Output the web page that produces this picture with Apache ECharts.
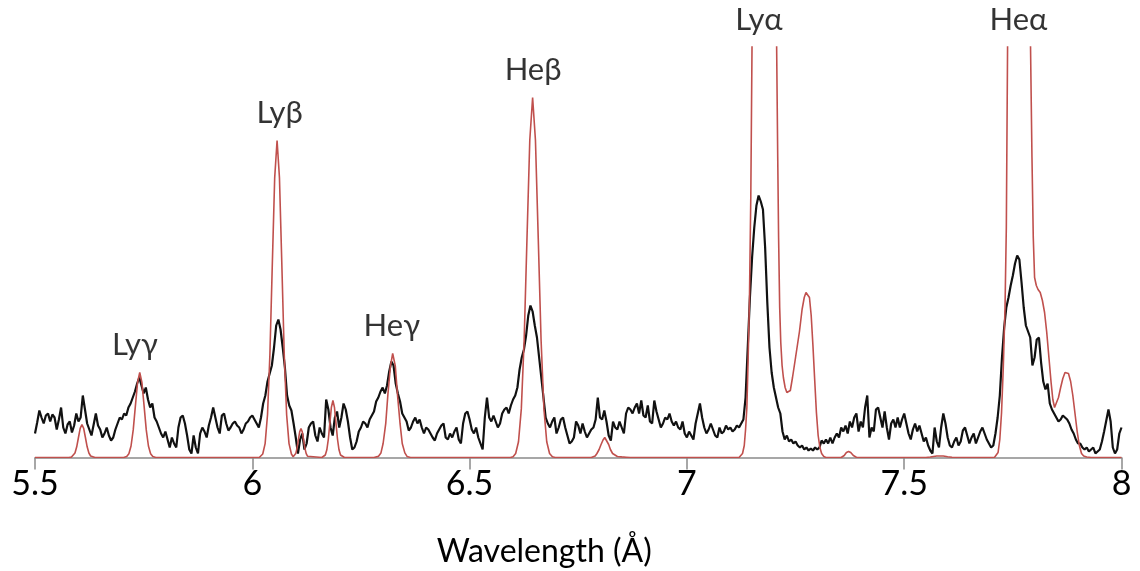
<!DOCTYPE html>
<html>
<head>
<meta charset="utf-8">
<title>X-ray spectrum 5.5–8 Å</title>
<script src="https://cdn.jsdelivr.net/npm/echarts@6/dist/echarts.min.js"></script>
<style>
  html, body { margin: 0; padding: 0; background: #ffffff; }
  #chart { width: 1140px; height: 571px; }
</style>
</head>
<body>
<div id="chart"></div>
<script>
// Measured spectrum: counts on a regular wavelength grid (Å)
const observedStart = 5.5;
const observedStep = 0.005;
const observedCounts = [
  24,35,47,40,34,42,44,36,43,40,
  28,38,50,30,24,33,36,25,32,44,
  36,40,62,48,34,28,22,33,44,32,
  28,20,24,30,22,17,20,28,34,40,
  38,44,42,50,54,60,66,74,80,72,
  64,70,58,50,54,40,36,30,24,20,
  26,18,10,20,14,10,30,40,42,34,
  22,8,4,22,10,4,24,30,26,20,
  32,40,50,40,30,24,42,44,34,27,
  30,34,36,32,30,24,28,34,36,40,
  42,38,34,30,40,54,62,76,84,92,
  110,132,138,128,110,90,62,52,47,34,
  20,4,18,24,8,14,30,34,36,22,
  16,30,24,20,58,48,30,22,40,46,
  30,40,54,48,36,20,8,10,16,26,
  30,36,34,30,38,42,46,56,60,66,
  70,64,72,86,96,92,74,64,56,44,
  40,36,27,30,36,40,34,38,30,24,
  30,28,24,20,17,24,28,32,34,20,
  18,24,20,26,30,18,14,34,44,46,
  38,28,24,30,20,14,8,40,60,40,
  36,42,36,30,34,44,48,50,44,52,
  58,62,70,88,100,108,122,142,152,146,
  132,120,100,80,60,40,34,30,36,40,
  24,30,38,40,30,22,14,16,20,36,
  32,24,34,26,20,24,28,30,38,60,
  40,38,47,36,22,17,36,30,28,36,
  30,24,44,50,48,44,50,54,44,57,
  42,40,52,36,34,57,46,38,30,34,
  40,38,44,36,32,36,30,28,36,24,
  20,26,22,18,34,44,54,40,30,24,
  28,34,28,22,20,30,24,26,32,28,
  30,26,28,32,30,34,38,60,110,160,
  200,230,252,262,256,248,210,155,110,85,
  70,60,50,44,26,18,22,16,18,14,
  16,12,10,12,8,10,7,9,7,10,
  8,10,17,14,18,14,20,14,20,24,
  20,30,26,32,24,36,30,40,44,26,
  36,30,50,62,20,30,26,48,50,40,
  30,46,30,18,34,38,30,40,30,38,
  44,34,24,18,28,34,26,32,24,16,
  20,12,7,4,30,16,10,30,44,34,
  20,12,10,16,20,12,16,27,30,22,
  14,20,24,14,20,26,30,24,18,14,
  10,12,24,40,62,100,130,150,160,172,
  182,194,202,198,175,150,132,126,120,92,
  100,118,120,95,76,68,74,54,48,44,
  40,36,38,42,40,38,34,28,24,18,
  14,14,10,8,10,6,8,10,4,6,
  8,16,26,37,48,36,10,4,8,24,30
];

// Synthetic model spectrum: [wavelength (Å), intensity]
const modelSpectrum = [
  [5.500,0],[5.578,0],[5.584,0.4],[5.588,1.5],[5.592,4.5],[5.596,10.7],[5.600,20],[5.604,29.1],[5.608,33],
  [5.612,29.1],[5.616,20],[5.620,10.7],[5.624,4.5],[5.628,1.5],[5.632,0.4],[5.638,0],
  [5.704,0],[5.711,0.9],[5.716,3.7],[5.721,11.5],[5.726,27.6],[5.731,51.6],[5.736,75],[5.741,85],
  [5.746,75],[5.751,51.6],[5.756,27.6],[5.761,11.5],[5.766,3.7],[5.771,0.9],[5.778,0],
  [6.016,0],[6.024,3.5],[6.0295,13.9],[6.035,42.8],[6.0405,103],[6.046,192.4],[6.0515,279.6],[6.057,317],
  [6.0625,279.6],[6.068,192.4],[6.0735,103],[6.079,42.8],[6.0845,13.9],[6.090,3.5],[6.094,0.8],
  [6.097,1.3],[6.100,3.9],[6.103,9.4],[6.106,17.6],[6.109,25.6],[6.112,29],[6.115,25.6],[6.118,17.6],
  [6.121,9.4],[6.124,3.9],[6.127,1.3],[6.131,0.3],[6.160,0],
  [6.1645,0.6],[6.168,2.5],[6.1715,7.7],[6.175,18.5],[6.1785,34.6],[6.182,50.3],[6.1855,57],[6.189,50.3],
  [6.1925,34.6],[6.196,18.5],[6.1995,7.7],[6.203,2.5],[6.2065,0.6],[6.212,0],
  [6.280,0],[6.290,1.1],[6.296,4.6],[6.301,14],[6.307,33.8],[6.312,63.1],[6.318,91.7],[6.323,104],
  [6.329,91.7],[6.334,63.1],[6.340,33.8],[6.345,14],[6.351,4.6],[6.356,1.1],[6.364,0],
  [6.594,0],[6.600,0.7],[6.606,4],[6.6125,15.8],[6.619,48.6],[6.6255,117],[6.632,218.5],[6.6385,317.5],[6.645,360],
  [6.6515,317.5],[6.658,218.5],[6.6645,117],[6.671,48.6],[6.6775,15.8],[6.684,4],[6.6905,0.7],[6.697,0],
  [6.780,0],[6.784,0.5],[6.789,1.5],[6.793,4],[6.798,8],[6.802,12.5],[6.807,17.5],[6.811,20],[6.815,18],
  [6.820,13],[6.824,8],[6.829,4],[6.833,2],[6.840,1],[6.850,0.6],[6.860,0.3],[6.870,0],
  [7.120,0],[7.124,1],[7.128,4],[7.132,12],[7.135,28],[7.138,50],[7.141,100],[7.144,160],[7.147,260],
  [7.150,420],[7.155,700],[7.165,1000],[7.180,1000],[7.195,800],[7.201,620],[7.2065,410],[7.209,300],
  [7.211,220],[7.2135,150],[7.216,115],[7.219,92],[7.222,80],[7.226,70],[7.230,65],[7.234,64],[7.238,67],
  [7.243,80],[7.250,100],[7.259,126],[7.265,148],[7.270,160],[7.274,165],[7.278,166],[7.282,160],[7.286,142],
  [7.290,112],[7.294,78],[7.298,45],[7.302,22],[7.306,10],[7.310,4],[7.315,1],[7.320,0],
  [7.355,0],[7.362,2],[7.367,5],[7.372,6],[7.377,5],[7.383,2],[7.390,0.3],[7.400,0],
  [7.550,0],[7.560,0.5],[7.575,1.5],[7.590,1.5],[7.600,0.8],[7.610,0.3],[7.700,0],
  [7.708,0.3],[7.712,1],[7.716,5],[7.720,18],[7.724,45],[7.728,90],[7.732,150],[7.735,230],[7.738,420],
  [7.745,800],[7.760,1000],[7.775,900],[7.783,700],[7.7907,410],[7.794,300],[7.797,220],[7.800,180],
  [7.804,172],[7.808,168],[7.813,165],[7.818,157],[7.823,145],[7.828,125],[7.833,100],[7.838,75],[7.842,58],
  [7.846,50],[7.850,52],[7.855,60],[7.860,70],[7.865,79],[7.870,85],[7.874,86],[7.878,84],[7.883,76],
  [7.888,62],[7.893,44],[7.898,26],[7.903,12],[7.908,4],[7.913,1.5],[7.920,0.5],[7.930,0],[8.000,0]
];

// Line identifications
const lineNames = ['Lyγ', 'Lyβ', 'Heγ', 'Heβ', 'Lyα', 'Heα'];
const lineWavelengths = [5.730, 6.063, 6.321, 6.646, 7.166, 7.763];

// Axis ticks
const xMin = 5.5, xMax = 8.0, xInterval = 0.5;
const yMax = 410.5;

const observed = observedCounts.map((v, i) => [+(observedStart + i * observedStep).toFixed(4), v]);

// Each identification sits just above the model peak near it (clipped at the frame top)
const labelPoints = lineWavelengths.map((w, k) => {
  let peak = 0;
  modelSpectrum.forEach(([x, y]) => { if (Math.abs(x - w) <= 0.016 && y > peak) peak = y; });
  return { name: lineNames[k], value: [w, Math.min(peak, yMax)] };
});

const chart = echarts.init(document.getElementById('chart'), null, { renderer: 'canvas' });
chart.setOption({
  animation: false,
  backgroundColor: '#ffffff',
  grid: {
    left: 35, right: 18.5, top: 47, bottom: 113.5,
    containLabel: false, outerBoundsMode: 'none'
  },
  xAxis: {
    type: 'value',
    min: xMin, max: xMax, interval: xInterval,
    name: 'Wavelength (Å)',
    nameLocation: 'middle',
    nameGap: 78,
    nameMoveOverlap: false,
    nameTextStyle: { fontFamily: 'Lato', fontSize: 32, color: '#000', padding: [0, 68, 0, 0] },
    axisLine: { show: true, onZero: false, lineStyle: { color: '#8a8a8a', width: 1.5 } },
    axisTick: { show: true, length: 12, lineStyle: { color: '#8a8a8a', width: 1.5 } },
    axisLabel: { fontFamily: 'Lato', fontSize: 34, color: '#000', margin: 10 },
    splitLine: { show: false }
  },
  yAxis: { type: 'value', min: 0, max: yMax, show: false, splitLine: { show: false } },
  series: [
    {
      name: 'Observed', type: 'line', data: observed, symbol: 'none', z: 2,
      lineStyle: { color: '#111111', width: 2.2 }, clip: true
    },
    {
      name: 'Model', type: 'line', data: modelSpectrum, symbol: 'none', z: 3,
      lineStyle: { color: '#c0504d', width: 1.6 }, clip: true
    },
    {
      name: 'Lines', type: 'scatter', data: labelPoints, symbolSize: 0, clip: false, silent: true, z: 4,
      label: {
        show: true, position: 'top', distance: 12, formatter: '{b}',
        fontFamily: 'Lato', fontSize: 31, color: '#000'
      }
    }
  ]
});
</script>
</body>
</html>
